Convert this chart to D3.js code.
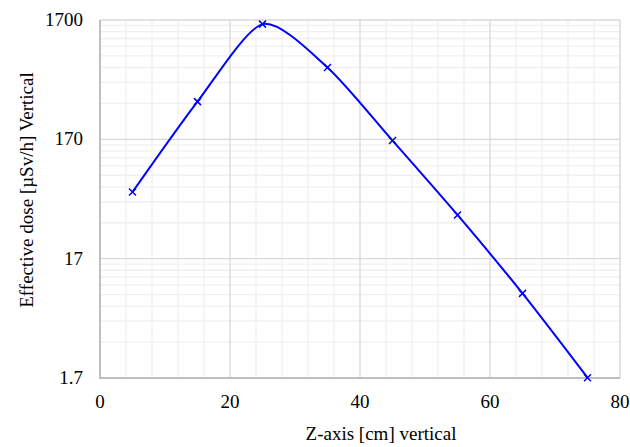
<!DOCTYPE html>
<html>
<head>
<meta charset="utf-8">
<script src="https://cdn.jsdelivr.net/npm/d3@7"></script>
<style>
  html, body { margin: 0; padding: 0; background: #fff; }
  svg { display: block; }
  svg text { font-family: "Liberation Serif", serif; }
</style>
</head>
<body>
<svg id="chart" width="630" height="447"></svg>
<script>
// Data
const zPositions = [5, 15, 25, 35, 45, 55, 65, 75];
const doseValues = [61.5, 352, 1570, 680, 166, 39.5, 8.7, 1.71];
const xTickValues = [0, 20, 40, 60, 80];
const yTickValues = [1.7, 17, 170, 1700];
const yTickLabels = ["1.7", "17", "170", "1700"];
const xTitle = "Z-axis [cm] vertical";
const yTitle = "Effective dose [µSv/h] Vertical";

const svg = d3.select("#chart");
const margin = { left: 100, right: 10, top: 20, bottom: 69 };
const W = 630, H = 447;
const x = d3.scaleLinear().domain([0, 80]).range([margin.left, W - margin.right]);
const y = d3.scaleLog().domain([1.7, 1700]).range([H - margin.bottom, margin.top]);

const g = svg.append("g");

// minor x grid
const xMinor = d3.range(0, 81, 4).filter(v => v % 20 !== 0);
g.selectAll("line.xminor").data(xMinor).join("line")
  .attr("x1", d => x(d)).attr("x2", d => x(d))
  .attr("y1", y(1700)).attr("y2", y(1.7))
  .attr("stroke", "#f0f0f0").attr("stroke-width", 1.3);

// minor y grid
const yMinor = [];
[1.7, 17, 170].forEach(b => { for (let k = 2; k <= 9; k++) yMinor.push(b * k); });
g.selectAll("line.yminor").data(yMinor).join("line")
  .attr("x1", x(0)).attr("x2", x(80))
  .attr("y1", d => y(d)).attr("y2", d => y(d))
  .attr("stroke", "#f0f0f0").attr("stroke-width", 1.3);

// major grid
g.selectAll("line.xmajor").data(xTickValues.filter(v => v > 0 && v < 80)).join("line")
  .attr("x1", d => x(d)).attr("x2", d => x(d))
  .attr("y1", y(1700)).attr("y2", y(1.7))
  .attr("stroke", "#d9d9d9").attr("stroke-width", 1.3);
g.selectAll("line.ymajor").data(yTickValues.filter(v => v > 1.7 && v < 1700)).join("line")
  .attr("x1", x(0)).attr("x2", x(80))
  .attr("y1", d => y(d)).attr("y2", d => y(d))
  .attr("stroke", "#d9d9d9").attr("stroke-width", 1.3);

// top & right border
g.append("line").attr("x1", x(0)).attr("x2", x(80)).attr("y1", y(1700)).attr("y2", y(1700))
  .attr("stroke", "#d9d9d9").attr("stroke-width", 1.5);
g.append("line").attr("x1", x(80)).attr("x2", x(80)).attr("y1", y(1700)).attr("y2", y(1.7))
  .attr("stroke", "#d9d9d9").attr("stroke-width", 1.5);

// axes (left, bottom) lines
g.append("line").attr("x1", x(0)).attr("x2", x(0)).attr("y1", y(1700)).attr("y2", y(1.7) + 1)
  .attr("stroke", "#bfbfbf").attr("stroke-width", 2);
g.append("line").attr("x1", x(0) - 1).attr("x2", x(80)).attr("y1", y(1.7)).attr("y2", y(1.7))
  .attr("stroke", "#bfbfbf").attr("stroke-width", 2);

// tick labels
g.selectAll("text.xt").data(xTickValues).join("text")
  .attr("x", d => x(d)).attr("y", y(1.7) + 30)
  .attr("text-anchor", "middle").attr("fill", "#000")
  .style("font-family", '"Liberation Serif"').style("font-size", "19px")
  .text(d => d);
g.selectAll("text.yt").data(yTickValues).join("text")
  .attr("x", x(0) - 17).attr("y", d => y(d) + 6)
  .attr("text-anchor", "end").attr("fill", "#000")
  .style("font-family", '"Liberation Serif"').style("font-size", "19px")
  .text((d, i) => yTickLabels[i]);

// titles
g.append("text").attr("x", 381).attr("y", 440).attr("text-anchor", "middle")
  .attr("fill", "#000")
  .style("font-family", '"Liberation Serif"').style("font-size", "19px")
  .text(xTitle);
g.append("text").attr("transform", `translate(33,190) rotate(-90)`)
  .attr("text-anchor", "middle").attr("fill", "#000")
  .style("font-family", '"Liberation Serif"').style("font-size", "19px")
  .text(yTitle);

// line
const pts = zPositions.map((z, i) => [z, doseValues[i]]);
const line = d3.line().x(d => x(d[0])).y(d => y(d[1])).curve(d3.curveCardinal.tension(0.25));
g.append("path").datum(pts).attr("d", line)
  .attr("fill", "none").attr("stroke", "#0000ff").attr("stroke-width", 2);

// markers
const s = 3.5;
const mk = g.selectAll("g.mk").data(pts).join("g")
  .attr("transform", d => `translate(${x(d[0])},${y(d[1])})`);
mk.append("path").attr("d", `M${-s},${-s}L${s},${s}M${-s},${s}L${s},${-s}`)
  .attr("stroke", "#0000ff").attr("stroke-width", 1.5).attr("fill", "none");
</script>
</body>
</html>
